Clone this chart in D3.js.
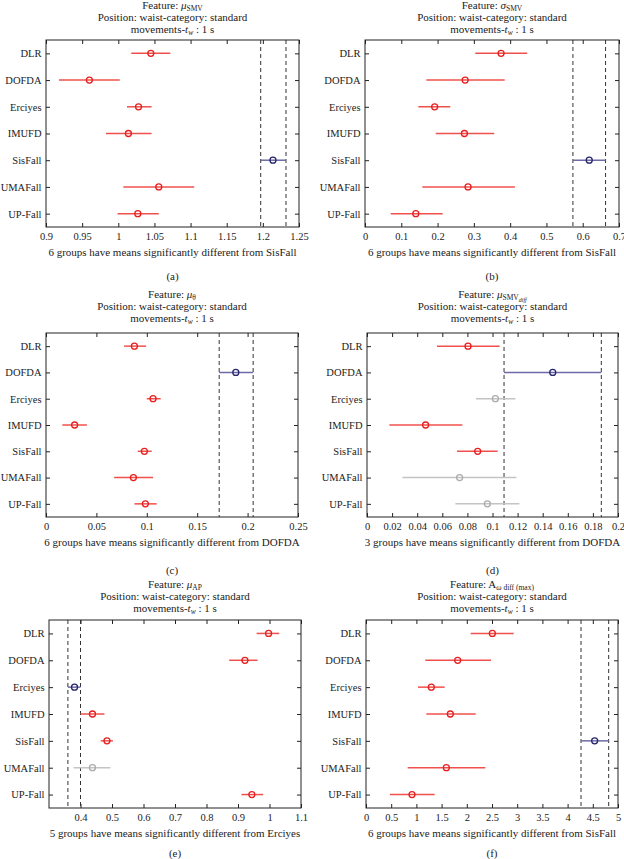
<!DOCTYPE html>
<html>
<head>
<meta charset="utf-8">
<script src="https://cdn.jsdelivr.net/npm/d3@7"></script>
<style>
  body { margin: 0; background: #fff; }
  text { font-family: "Liberation Serif", "DejaVu Serif", serif; fill: #222; }
</style>
</head>
<body>
<script>
var groups = ['DLR', 'DOFDA', 'Erciyes', 'IMUFD', 'SisFall', 'UMAFall', 'UP-Fall'];

// (a) mu SMV
var meanA = [1.045, 0.960, 1.028, 1.014, 1.214, 1.056, 1.027];
var lowA = [1.018, 0.918, 1.012, 0.983, 1.197, 1.007, 0.999];
var highA = [1.072, 1.002, 1.046, 1.046, 1.232, 1.105, 1.056];
var statusA = ['sig', 'sig', 'sig', 'sig', 'ref', 'sig', 'sig'];
var domainA = [0.9, 1.25];
var ticksA = [0.9, 0.95, 1, 1.05, 1.1, 1.15, 1.2, 1.25];
var noteA = '6 groups have means significantly different from SisFall';

// (b) sigma SMV
var meanB = [0.375, 0.276, 0.192, 0.274, 0.618, 0.284, 0.140];
var lowB = [0.304, 0.169, 0.147, 0.195, 0.573, 0.158, 0.071];
var highB = [0.447, 0.385, 0.235, 0.356, 0.663, 0.413, 0.214];
var statusB = ['sig', 'sig', 'sig', 'sig', 'ref', 'sig', 'sig'];
var domainB = [0, 0.7];
var ticksB = [0, 0.1, 0.2, 0.3, 0.4, 0.5, 0.6, 0.7];
var noteB = '6 groups have means significantly different from SisFall';

// (c) mu theta
var meanC = [0.0877, 0.1883, 0.1062, 0.0284, 0.0976, 0.0867, 0.0986];
var lowC = [0.0775, 0.1718, 0.0999, 0.0162, 0.0910, 0.0676, 0.0877];
var highC = [0.0993, 0.2055, 0.1138, 0.0406, 0.1049, 0.1062, 0.1098];
var statusC = ['sig', 'ref', 'sig', 'sig', 'sig', 'sig', 'sig'];
var domainC = [0, 0.25];
var ticksC = [0, 0.05, 0.1, 0.15, 0.2, 0.25];
var noteC = '6 groups have means significantly different from DOFDA';

// (d) mu SMV diff
var meanD = [0.0805, 0.148, 0.1023, 0.0467, 0.0882, 0.0738, 0.0959];
var lowD = [0.0558, 0.1092, 0.0869, 0.0178, 0.0717, 0.0282, 0.0704];
var highD = [0.1057, 0.1867, 0.1182, 0.0760, 0.1041, 0.1190, 0.1214];
var statusD = ['sig', 'ref', 'ns', 'sig', 'sig', 'ns', 'ns'];
var domainD = [0, 0.2];
var ticksD = [0, 0.02, 0.04, 0.06, 0.08, 0.1, 0.12, 0.14, 0.16, 0.18, 0.2];
var noteD = '3 groups have means significantly different from DOFDA';

// (e) mu AP
var meanE = [0.997, 0.922, 0.381, 0.438, 0.484, 0.438, 0.944];
var lowE = [0.959, 0.872, 0.360, 0.400, 0.464, 0.378, 0.911];
var highE = [1.031, 0.962, 0.400, 0.476, 0.503, 0.495, 0.980];
var statusE = ['sig', 'sig', 'ref', 'sig', 'sig', 'ns', 'sig'];
var domainE = [0.3, 1.1];
var ticksE = [0.4, 0.5, 0.6, 0.7, 0.8, 0.9, 1, 1.1];
var noteE = '5 groups have means significantly different from Erciyes';

// (f) A omega diff (max)
var meanF = [2.507, 1.819, 1.296, 1.673, 4.537, 1.594, 0.913];
var lowF = [2.077, 1.177, 1.032, 1.197, 4.266, 0.827, 0.476];
var highF = [2.930, 2.480, 1.561, 2.176, 4.815, 2.368, 1.362];
var statusF = ['sig', 'sig', 'sig', 'sig', 'ref', 'sig', 'sig'];
var domainF = [0, 5];
var ticksF = [0, 0.5, 1, 1.5, 2, 2.5, 3, 3.5, 4, 4.5, 5];
var noteF = '6 groups have means significantly different from SisFall';

var lineColor = { sig: '#f0504c', ref: '#6d6aa6', ns: '#c4c4c4' };
var dotColor = { sig: '#e61e1e', ref: '#26246a', ns: '#ababab' };

// feature names: [text, italic, subscript level]
var panels = [
  { tag: '(a)', mean: meanA, low: lowA, high: highA, status: statusA, domain: domainA, ticks: ticksA, note: noteA,
    feature: [['\u03bc', 1, 0], ['SMV', 0, 1]],
    box: { left: 46, right: 299, top: 40, bottom: 227 }, titleY: 9, tagY: 280 },
  { tag: '(b)', mean: meanB, low: lowB, high: highB, status: statusB, domain: domainB, ticks: ticksB, note: noteB,
    feature: [['\u03c3', 1, 0], ['SMV', 0, 1]],
    box: { left: 365, right: 619, top: 40, bottom: 227 }, titleY: 9, tagY: 280 },
  { tag: '(c)', mean: meanC, low: lowC, high: highC, status: statusC, domain: domainC, ticks: ticksC, note: noteC,
    feature: [['\u03bc', 1, 0], ['\u03b8', 0, 1]],
    box: { left: 46, right: 298, top: 333, bottom: 517 }, titleY: 298, tagY: 574 },
  { tag: '(d)', mean: meanD, low: lowD, high: highD, status: statusD, domain: domainD, ticks: ticksD, note: noteD,
    feature: [['\u03bc', 1, 0], ['SMV', 0, 1], ['diff', 1, 2]],
    box: { left: 367, right: 618, top: 333, bottom: 517 }, titleY: 298, tagY: 574 },
  { tag: '(e)', mean: meanE, low: lowE, high: highE, status: statusE, domain: domainE, ticks: ticksE, note: noteE,
    feature: [['\u03bc', 1, 0], ['AP', 0, 1]],
    box: { left: 49, right: 301, top: 620, bottom: 808 }, titleY: 588, tagY: 857 },
  { tag: '(f)', mean: meanF, low: lowF, high: highF, status: statusF, domain: domainF, ticks: ticksF, note: noteF,
    feature: [['A', 0, 0], ['\u03c9', 1, 1], [' diff (max)', 0, 1]],
    box: { left: 366, right: 618, top: 620, bottom: 808 }, titleY: 588, tagY: 857 }
];

var svg = d3.select('body').append('svg').attr('width', 624).attr('height', 859);

function fmt(v) { return String(+v.toFixed(4)); }

panels.forEach(function (p) {
  var b = p.box;
  var g = svg.append('g');
  var x = d3.scaleLinear().domain(p.domain).range([b.left, b.right]);
  var y = d3.scalePoint().domain(groups).range([b.top, b.bottom]).padding(0.5);
  var cx = (b.left + b.right) / 2;

  // title, three lines
  var t1 = g.append('text').attr('x', cx).attr('y', p.titleY).attr('text-anchor', 'middle').style('font-size', '11px');
  t1.append('tspan').text('Feature: ');
  var lastLevel = 0;
  p.feature.forEach(function (s) {
    var ts = t1.append('tspan').text(s[0])
      .style('font-style', s[1] ? 'italic' : 'normal')
      .style('font-size', s[2] === 0 ? '11px' : (s[2] === 1 ? '7.5px' : '6px'));
    var shift = (s[2] - lastLevel) * 2;
    if (shift) ts.attr('dy', shift);
    lastLevel = s[2];
  });
  g.append('text').attr('x', cx).attr('y', p.titleY + 11.5).attr('text-anchor', 'middle')
    .style('font-size', '11px').text('Position: waist-category: standard');
  var t3 = g.append('text').attr('x', cx).attr('y', p.titleY + 24).attr('text-anchor', 'middle').style('font-size', '11px');
  t3.append('tspan').text('movements-');
  t3.append('tspan').text('t').style('font-style', 'italic');
  t3.append('tspan').text('w').style('font-style', 'italic').style('font-size', '7.5px').attr('dy', 2);
  t3.append('tspan').text(' : 1 s').attr('dy', -2);

  // axes, ticks inside on all four sides
  var xb = d3.axisBottom(x).tickValues(p.ticks).tickFormat(fmt).tickSizeInner(-4).tickSizeOuter(0).tickPadding(5.5);
  var xt = d3.axisTop(x).tickValues(p.ticks).tickFormat('').tickSizeInner(-4).tickSizeOuter(0);
  var yl = d3.axisLeft(y).tickSizeInner(-4).tickSizeOuter(0).tickPadding(4.5);
  var yr = d3.axisRight(y).tickFormat('').tickSizeInner(-4).tickSizeOuter(0);

  g.append('g').attr('transform', 'translate(0,' + b.bottom + ')').call(xb);
  g.append('g').attr('transform', 'translate(0,' + b.top + ')').call(xt);
  g.append('g').attr('transform', 'translate(' + b.left + ',0)').call(yl);
  g.append('g').attr('transform', 'translate(' + b.right + ',0)').call(yr);
  g.selectAll('.domain').remove();
  g.selectAll('.tick line').attr('stroke', '#222');
  g.selectAll('.tick text').style('font-size', '10.5px').attr('fill', '#222');

  // reference group's interval
  var ri = p.status.indexOf('ref');
  [p.low[ri], p.high[ri]].forEach(function (v) {
    g.append('line').attr('x1', x(v)).attr('x2', x(v)).attr('y1', b.top).attr('y2', b.bottom)
      .attr('stroke', '#333').attr('stroke-width', 1).attr('stroke-dasharray', '4,3');
  });

  groups.forEach(function (name, i) {
    var st = p.status[i];
    g.append('line').attr('x1', x(p.low[i])).attr('x2', x(p.high[i]))
      .attr('y1', y(name)).attr('y2', y(name))
      .attr('stroke', lineColor[st]).attr('stroke-width', 1.5);
    g.append('circle').attr('cx', x(p.mean[i])).attr('cy', y(name)).attr('r', 3)
      .attr('fill', 'none').attr('stroke', dotColor[st]).attr('stroke-width', 1.3);
  });

  g.append('rect').attr('x', b.left).attr('y', b.top)
    .attr('width', b.right - b.left).attr('height', b.bottom - b.top)
    .attr('fill', 'none').attr('stroke', '#222').attr('stroke-width', 1);

  g.append('text').attr('x', cx).attr('y', b.bottom + 28.5).attr('text-anchor', 'middle')
    .style('font-size', '11px').text(p.note);
  g.append('text').attr('x', cx).attr('y', p.tagY).attr('text-anchor', 'middle')
    .style('font-size', '11px').text(p.tag);
});
</script>
</body>
</html>
